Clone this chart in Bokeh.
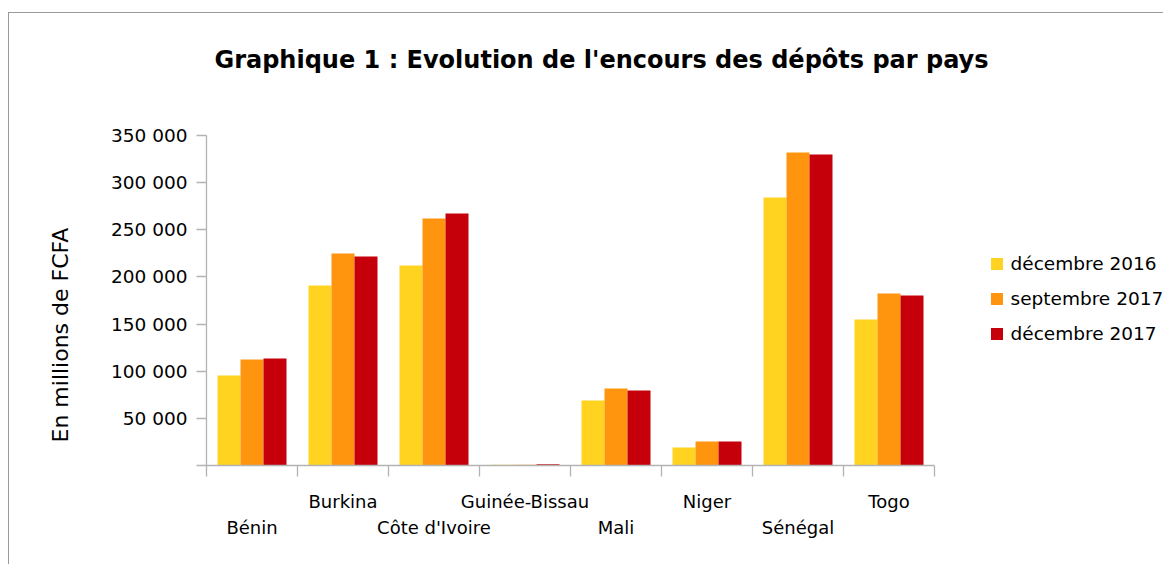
from bokeh.plotting import figure
from bokeh.models import (Range1d, FixedTicker, Label, Legend, LegendItem,
                          ColumnDataSource, LinearAxis, Title)
from bokeh.transform import dodge
from bokeh.embed import file_html
from bokeh.resources import INLINE

# ---------------- data ----------------
countries = ["Bénin", "Burkina", "Côte d'Ivoire", "Guinée-Bissau",
             "Mali", "Niger", "Sénégal", "Togo"]
series_names = ["décembre 2016", "septembre 2017", "décembre 2017"]
dec_2016 = [95500, 190900, 212100, 700, 68900, 19100, 284200, 154800]
sep_2017 = [112400, 224800, 262000, 800, 81700, 25500, 332000, 182400]
dec_2017 = [113500, 221700, 267300, 1200, 79500, 25500, 329800, 180300]
y_ticks = [0, 50000, 100000, 150000, 200000, 250000, 300000, 350000]
y_tick_labels = ["", "50 000", "100 000", "150 000", "200 000",
                 "250 000", "300 000", "350 000"]
title_text = "Graphique 1 : Evolution de l'encours des dépôts par pays"
y_label_text = "En millions de FCFA"

colors = ["#FFD320", "#FF950E", "#C5000B"]
FONT = "DejaVu Sans"

# ---------------- layout (page pixels) ----------------
ORIGIN_X, ORIGIN_Y = 9, 13            # canvas origin on the page
FRAME_LEFT_PX, FRAME_BOTTOM_PX = 206.0, 465.0
FRAME_TOP_PX = 40.0
W, H = 1155, 552
FRAME_RIGHT_PX = ORIGIN_X + W
PX_PER_CAT = 91.0
Y_AXIS_MAX = 350000
PX_PER_Y = 330.0 / Y_AXIS_MAX

X_MAX = (FRAME_RIGHT_PX - FRAME_LEFT_PX) / PX_PER_CAT
Y_MAX = (FRAME_BOTTOM_PX - FRAME_TOP_PX) / PX_PER_Y


def dx(page_x):
    return (page_x - FRAME_LEFT_PX) / PX_PER_CAT


def dy(page_y):
    return (FRAME_BOTTOM_PX - page_y) / PX_PER_Y


p = figure(width=W, height=H, x_range=Range1d(0, X_MAX),
           y_range=Range1d(0, Y_MAX), output_backend="svg",
           toolbar_location=None,
           min_border_left=int(FRAME_LEFT_PX - ORIGIN_X),
           min_border_right=0,
           min_border_top=int(FRAME_TOP_PX - ORIGIN_Y),
           min_border_bottom=int(ORIGIN_Y + H - FRAME_BOTTOM_PX))
p.styles = {"border-top": "1px solid #999999",
            "border-left": "1px solid #999999",
            "position": "relative", "left": "8px", "top": "12px"}
p.outline_line_color = None
p.xgrid.visible = False
p.ygrid.visible = False
p.background_fill_color = "white"
p.border_fill_color = "white"

src = ColumnDataSource(dict(
    x=[i + 0.5 for i in range(len(countries))],
    s0=dec_2016, s1=sep_2017, s2=dec_2017,
))

bar_w = 23.0 / PX_PER_CAT
renderers = []
for k, (col, c) in enumerate(zip(["s0", "s1", "s2"], colors)):
    r = p.vbar(x=dodge("x", (k - 1) * bar_w, range=p.x_range), top=col,
               width=bar_w, bottom=0, source=src, fill_color=c,
               line_color=None)
    renderers.append(r)

# ---------------- axes ----------------
axis_color = "#b3b3b3"
yax = p.yaxis[0]
yax.bounds = (0, Y_AXIS_MAX)
yax.ticker = FixedTicker(ticks=y_ticks)
yax.major_label_overrides = {t: l for t, l in zip(y_ticks, y_tick_labels)}
yax.axis_line_color = axis_color
yax.axis_line_width = 1.3
yax.major_tick_line_color = axis_color
yax.major_tick_line_width = 1.3
yax.major_tick_in = 0
yax.major_tick_out = 10
yax.minor_tick_line_color = None
yax.major_label_standoff = 9
yax.major_label_text_font = FONT
yax.major_label_text_font_size = "18.5px"
yax.major_label_text_color = "#000000"

n = len(countries)
upper_ticks = [i + 0.5 for i in range(1, n, 2)]
lower_ticks = [i + 0.5 for i in range(0, n, 2)]

# main x axis: category boundaries as (minor) ticks, upper row of names
xax = p.xaxis[0]
xax.bounds = (0, n)
xax.ticker = FixedTicker(ticks=upper_ticks, minor_ticks=list(range(n + 1)))
xax.major_label_overrides = {t: countries[i] for t, i in
                             zip(upper_ticks, range(1, n, 2))}
xax.axis_line_color = axis_color
xax.axis_line_width = 1.3
xax.major_tick_line_color = None
xax.major_tick_in = 0
xax.major_tick_out = 11
xax.minor_tick_line_color = axis_color
xax.minor_tick_line_width = 1.3
xax.minor_tick_in = 0
xax.minor_tick_out = 11
xax.major_label_standoff = 14
xax.major_label_text_font = FONT
xax.major_label_text_font_size = "18px"
xax.major_label_text_color = "#000000"

# second axis: lower row of names
xax2 = LinearAxis(ticker=FixedTicker(ticks=lower_ticks),
                  major_label_overrides={t: countries[i] for t, i in
                                         zip(lower_ticks, range(0, n, 2))},
                  axis_line_color=None, major_tick_line_color=None,
                  minor_tick_line_color=None, major_tick_in=0,
                  major_tick_out=0, major_label_standoff=2,
                  major_label_text_font=FONT,
                  major_label_text_font_size="18px",
                  major_label_text_color="#000000")
p.add_layout(xax2, "below")

# ---------------- y axis title ----------------
p.add_layout(Title(text=y_label_text, align="left", offset=23,
                   vertical_align="bottom", standoff=69,
                   text_font=FONT, text_font_size="22px",
                   text_font_style="normal", text_color="#000000"), "left")

# ---------------- chart title ----------------
p.add_layout(Label(x=dx(601), y=dy(59.8), text=title_text,
                   text_align="center", text_baseline="alphabetic",
                   text_font=FONT, text_font_size="24px",
                   text_font_style="bold", text_color="#000000"))

# ---------------- legend ----------------
legend = Legend(items=[LegendItem(label=nm, renderers=[r])
                       for nm, r in zip(series_names, renderers)],
                location=(782.5, 121.5), orientation="vertical",
                glyph_width=15, glyph_height=15, label_height=15,
                label_standoff=7, spacing=14, padding=0, margin=0,
                border_line_color=None, background_fill_alpha=0,
                label_text_font=FONT, label_text_font_size="18.5px",
                label_text_color="#000000")
p.add_layout(legend)

open("out.html", "w").write(file_html(p, INLINE))
